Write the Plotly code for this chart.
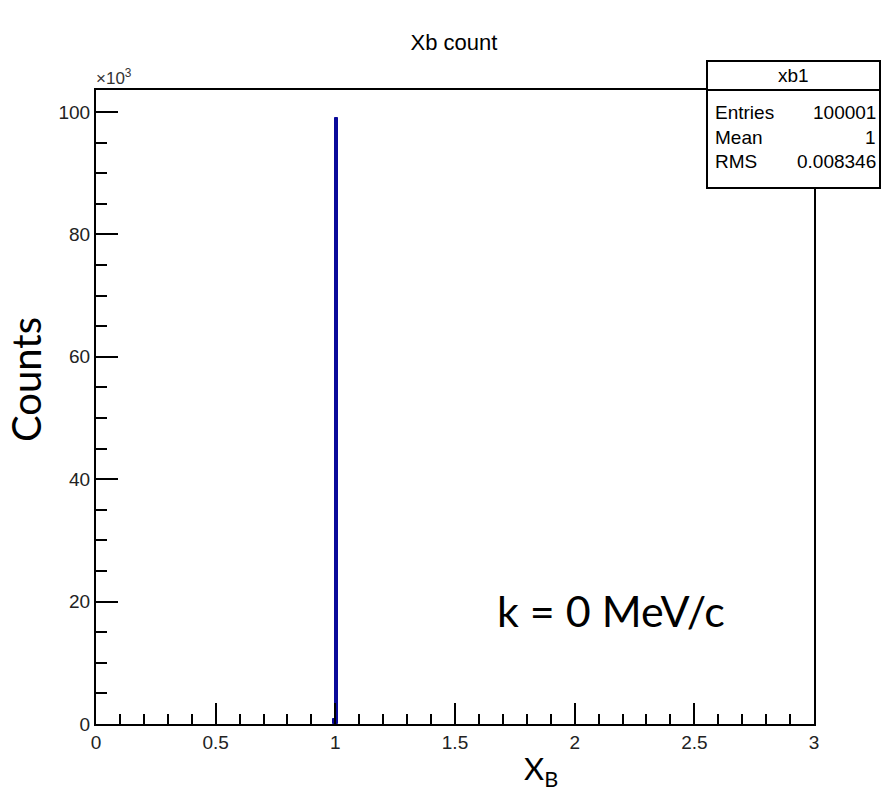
import plotly.graph_objects as go

# Histogram data (nonzero bins), bin width 0.01
bin_centers = [0.995, 1.005]
bin_counts = [800, 99000]
bin_width = 0.01

x_ticks = [0, 0.5, 1, 1.5, 2, 2.5, 3]
x_ticklabels = ["0", "0.5", "1", "1.5", "2", "2.5", "3"]
y_ticks = [0, 20000, 40000, 60000, 80000, 100000]
y_ticklabels = ["0", "20", "40", "60", "80", "100"]

stats_name = "xb1"
stats_labels = ["Entries", "Mean", "RMS"]
stats_values = ["100001", "1", "0.008346"]

ROOTFONT = "Liberation Sans, Arial, sans-serif"
BIG = "Lato, Open Sans, sans-serif"

fig = go.Figure()
fig.add_trace(go.Bar(
    x=bin_centers, y=bin_counts, width=[bin_width] * len(bin_centers),
    marker=dict(color="#0a0a9a", line=dict(color="#0a0a9a", width=1)),
    showlegend=False,
))

fig.update_layout(
    width=882, height=793,
    margin=dict(l=96, r=68, t=90, b=69),
    plot_bgcolor="white", paper_bgcolor="white",
    bargap=0,
    title=dict(text="Xb count", x=454 / 882, xanchor="center", y=1 - 42 / 793, yanchor="middle",
               font=dict(family=ROOTFONT, size=22, color="black")),
    xaxis=dict(range=[0, 3], tickvals=x_ticks, ticktext=x_ticklabels,
               ticks="inside", ticklen=21, tickwidth=2, tickcolor="black",
               minor=dict(ticks="inside", ticklen=10, dtick=0.1, tickwidth=2, tickcolor="black"),
               showline=True, linecolor="black", linewidth=2, mirror=True,
               showgrid=False, zeroline=False,
               tickfont=dict(family=ROOTFONT, size=19, color="#222")),
    yaxis=dict(range=[0, 103600], tickvals=y_ticks, ticktext=y_ticklabels,
               ticks="inside", ticklen=22, tickwidth=2, tickcolor="black",
               minor=dict(ticks="inside", ticklen=11, dtick=5000, tickwidth=2, tickcolor="black"),
               showline=True, linecolor="black", linewidth=2, mirror=True,
               showgrid=False, zeroline=False,
               tickfont=dict(family=ROOTFONT, size=19, color="#222")),
)

# x10^3 multiplier
fig.add_annotation(xref="paper", yref="paper", x=-0.003, y=1.0, xanchor="left", yanchor="bottom",
                   yshift=0, text="×10<sup>3</sup>", showarrow=False,
                   font=dict(family=ROOTFONT, size=17, color="#333"))

# Axis titles
fig.add_annotation(xref="paper", yref="paper", x=(26 - 96) / 718, y=(724 - 380) / 634,
                   text="Counts", textangle=-90,
                   showarrow=False, font=dict(family=BIG, size=40, color="black"),
                   xanchor="center", yanchor="middle")
fig.add_annotation(xref="paper", yref="paper", x=(522 - 96) / 718, y=(724 - 770) / 634,
                   text="X<sub>B</sub>",
                   showarrow=False, font=dict(family=BIG, size=31, color="black"),
                   xanchor="left", yanchor="middle")

# Label in plot
fig.add_annotation(xref="paper", yref="paper", x=(495 - 96) / 718, y=(724 - 610) / 634,
                   text="k = 0 MeV/c",
                   showarrow=False, font=dict(family=BIG, size=43, color="black"),
                   xanchor="left", yanchor="middle")

# Stats box
x0p, x1p = (707 - 96) / 718, (880 - 96) / 718
ytop, ysep, ybot = (724 - 61) / 634, (724 - 90) / 634, (724 - 188) / 634
fig.add_shape(type="rect", xref="paper", yref="paper", x0=x0p, x1=x1p, y0=ybot, y1=ytop,
              line=dict(color="black", width=2), fillcolor="white", layer="above")
fig.add_shape(type="line", xref="paper", yref="paper", x0=x0p, x1=x1p, y0=ysep, y1=ysep,
              line=dict(color="black", width=2), layer="above")
fig.add_annotation(xref="paper", yref="paper", x=(x0p + x1p) / 2, y=(724 - 76) / 634,
                   text=stats_name, showarrow=False, xanchor="center", yanchor="middle",
                   font=dict(family=ROOTFONT, size=19, color="black"))
row_px = [112, 137, 162]
for lab, val, py in zip(stats_labels, stats_values, row_px):
    yp = (724 - py) / 634
    fig.add_annotation(xref="paper", yref="paper", x=(713 - 96) / 718, y=yp, text=lab,
                       showarrow=False, xanchor="left", yanchor="middle",
                       font=dict(family=ROOTFONT, size=19, color="black"))
    fig.add_annotation(xref="paper", yref="paper", x=(878 - 96) / 718, y=yp, text=val,
                       showarrow=False, xanchor="right", yanchor="middle",
                       font=dict(family=ROOTFONT, size=19, color="black"))

fig.write_html("out.html")
